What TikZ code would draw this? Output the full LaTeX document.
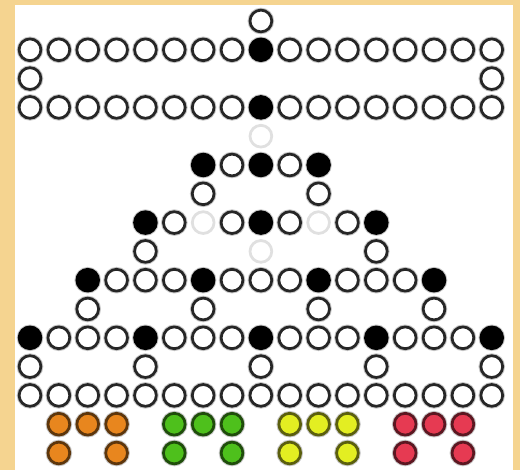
\documentclass[tikz,border=0pt]{standalone}
\usepackage{tikz}
\usetikzlibrary{calc}
\definecolor{boardframe}{HTML}{F5D490}
\definecolor{pegorange}{HTML}{E8861E}
\definecolor{peggreen}{HTML}{4EC01C}
\definecolor{pegyellow}{HTML}{E3EE22}
\definecolor{pegred}{HTML}{E63A52}

\begin{document}
\begin{tikzpicture}[
        x=0.2mm, y=-0.2mm,
        basepeg/.style={circle, line width=0.55mm, fill=white, minimum size=4.35mm, inner sep=0pt},
        peg/.style={basepeg, draw=black!85, preaction={draw=black!22, line width=0.95mm}},
        fullpeg/.style={peg, draw=black, fill=black},
        ghostpeg/.style={basepeg, draw=black!12},
        colpeg/.style={peg, draw=#1!40!black, fill=#1}
    ]
        % board
        \fill[boardframe] (0,0) rectangle (520,470);
        \fill[white] (15,5) rectangle (513,470);

        % white pegs
        \foreach \r/\cols in {0/{8}, 1/{0,1,2,3,4,5,6,7,9,10,11,12,13,14,15,16}, 2/{0,16},
                3/{0,1,2,3,4,5,6,7,9,10,11,12,13,14,15,16}, 5/{7,9}, 6/{6,10}, 7/{5,7,9,11},
                8/{4,12}, 9/{3,4,5,7,8,9,11,12,13}, 10/{2,6,10,14},
                11/{1,2,3,5,6,7,9,10,11,13,14,15}, 12/{0,4,8,12,16},
                13/{0,1,2,3,4,5,6,7,8,9,10,11,12,13,14,15,16}}
            \foreach \c in \cols
                \node[peg] (p-\r-\c) at ({30+28.86*\c},{21+28.8*\r}) {};

        % black pegs
        \foreach \r/\cols in {1/{8}, 3/{8}, 5/{6,8,10}, 7/{4,8,12}, 9/{2,6,10,14}, 11/{0,4,8,12,16}}
            \foreach \c in \cols
                \node[fullpeg] (p-\r-\c) at ({30+28.86*\c},{21+28.8*\r}) {};

        % faded pegs
        \foreach \r/\c in {4/8, 7/6, 7/10, 8/8}
            \node[ghostpeg] (p-\r-\c) at ({30+28.86*\c},{21+28.8*\r}) {};

        % coloured pegs
        \foreach \k/\pc in {0/pegorange, 1/peggreen, 2/pegyellow, 3/pegred} {
            \foreach \r/\c in {14/1, 14/2, 14/3, 15/1, 15/3}
                \node[colpeg=\pc] (p-\r-\k-\c) at ({30+28.86*(4*\k+\c)},{21+28.8*\r}) {};
        }
    \end{tikzpicture}
\end{document}
